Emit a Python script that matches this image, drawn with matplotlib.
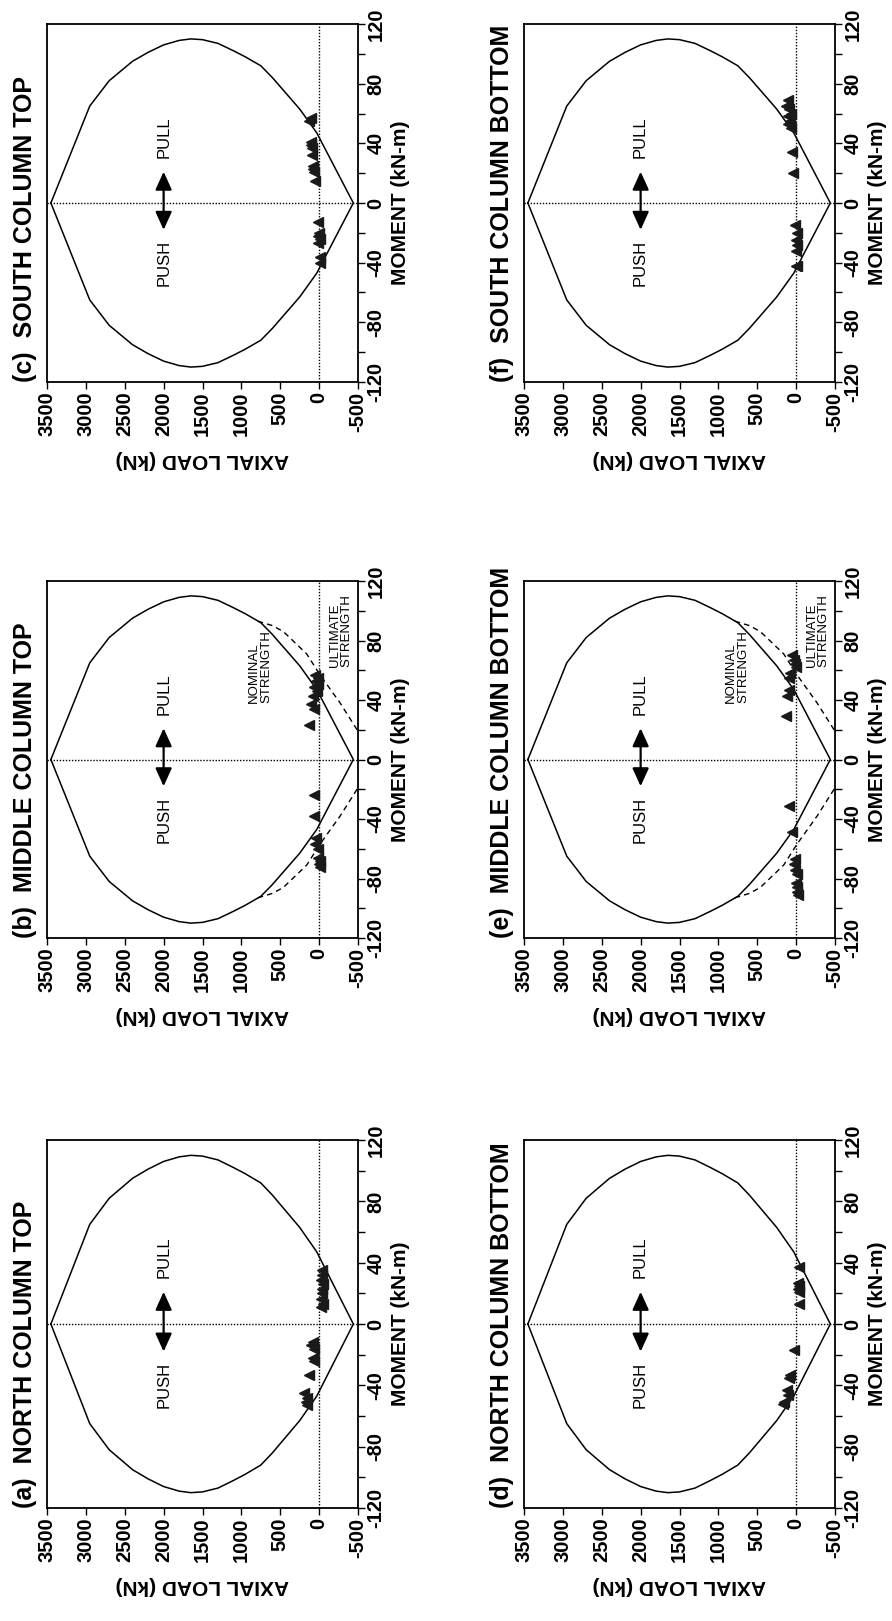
import matplotlib.pyplot as plt
from matplotlib.ticker import MultipleLocator

plt.rcParams['font.family'] = ['Liberation Sans', 'DejaVu Sans']

# nominal P-M interaction diagram (positive-moment half; mirrored for negative)
nominal_p = [3450, 2950, 2700, 2400, 2200, 2000, 1800, 1650, 1500, 1300, 1100, 950,
             750, 600, 400, 250, 30, -440]
nominal_m = [0, 65, 82, 95, 101, 106, 109, 110, 109.5, 107, 102, 98,
             92, 84, 72, 63, 47, 0]

# ultimate strength branch, drawn on the middle column only
ultimate_p = [790, 600, 460, 160, -10, -270, -500]
ultimate_m = [93, 90, 86, 71, 57, 38, 19]

titles = ['(a)  NORTH COLUMN TOP', '(b)  MIDDLE COLUMN TOP', '(c)  SOUTH COLUMN TOP',
          '(d)  NORTH COLUMN BOTTOM', '(e)  MIDDLE COLUMN BOTTOM', '(f)  SOUTH COLUMN BOTTOM']

# measured (moment kN-m, axial load kN) per panel
a_m = [35, 32, 29, 26, 23, 20, 16, 13, 11, -12, -14, -16, -22, -24, -33, -45, -48, -51, -53]
a_p = [-35, -40, -30, -45, -35, -40, -30, -45, -25, 80, 100, 60, 85, 60, 125, 190, 160, 175, 150]

b_m = [57, 55, 53, 51, 49, 46, 43, 37, 34, 23, -24, -38, -53, -57, -60, -66, -68, -70, -72]
b_p = [50, 20, 35, 10, 60, 30, 75, 100, 65, 125, 70, 60, 40, 55, 20, 10, -10, 5, -15]

c_m = [57, 55, 41, 39, 37, 32, 25, 23, 21, 15, -13, -20, -22, -24, -27, -36, -40]
c_p = [110, 130, 100, 110, 95, 95, 75, 80, 70, 50, 10, 5, 15, -5, 10, -10, -15]

d_m = [37, 27, 25, 23, 21, 13, -17, -33, -35, -43, -46, -51, -52]
d_p = [-40, -30, -40, -25, -35, -40, 30, 75, 95, 120, 105, 150, 165]

e_m = [70, 67, 64, 62, 58, 55, 47, 43, 29, -31, -49, -67, -70, -74, -77, -83, -86, -89, -91]
e_p = [50, 30, 10, 0, 75, 90, 95, 115, 130, 95, 50, 20, 30, 10, -5, 0, -15, -10, -20]

f_m = [69, 65, 63, 60, 58, 55, 53, 50, 34, 20, -15, -20, -25, -28, -32, -42, -42]
f_p = [105, 130, 95, 60, 105, 75, 105, 60, 55, 45, 10, -5, 0, -10, 0, 5, -10]

moments = [a_m, b_m, c_m, d_m, e_m, f_m]
loads = [a_p, b_p, c_p, d_p, e_p, f_p]
show_ultimate = [False, True, False, False, True, False]

load_ticks = list(range(-500, 3501, 500))
moment_ticks = list(range(-120, 121, 40))

W, H = 892, 1621
fig = plt.figure(figsize=(W / 100, H / 100), dpi=100)

# page is turned on its side: columns hold top/bottom, rows run c-b-a
col_px = [47, 524]
row_px = [(24, 382), (581, 938), (1140, 1508)]
box_w = 311
slots = [(0, 2), (0, 1), (0, 0), (1, 2), (1, 1), (1, 0)]

mirror_p = nominal_p[::-1]
mirror_m = [-m for m in nominal_m[::-1]]
env_p = nominal_p + mirror_p
env_m = nominal_m + mirror_m

for i in range(6):
    col, row = slots[i]
    top, bot = row_px[row]
    ax = fig.add_axes([col_px[col] / W, 1 - bot / H, box_w / W, (bot - top) / H])

    ax.plot(env_p, env_m, color='black', lw=1.1)
    ax.axvline(0, color='black', lw=1.0, ls=(0, (1, 1.2)))
    ax.axhline(0, color='black', lw=1.0, ls=(0, (1, 1.2)))

    if show_ultimate[i]:
        ax.plot(ultimate_p, ultimate_m, color='black', lw=1.0, ls=(0, (4, 3)))
        ax.plot(ultimate_p, [-m for m in ultimate_m], color='black', lw=1.0, ls=(0, (4, 3)))
        ax.text(760, 38, 'NOMINAL\nSTRENGTH', rotation=90, fontsize=9.5,
                ha='center', va='bottom', multialignment='left', linespacing=1.0)
        ax.text(-280, 62, 'ULTIMATE\nSTRENGTH', rotation=90, fontsize=9.5,
                ha='center', va='bottom', multialignment='left', linespacing=1.0)

    ax.plot(loads[i], moments[i], linestyle='none', marker='<', markersize=7.5,
            color='#1a1a1a')

    # push / pull direction arrow
    ax.annotate('', xy=(2000, 21), xytext=(2000, -18),
                arrowprops=dict(arrowstyle='<|-|>,head_length=0.55,head_width=0.25',
                                mutation_scale=20, lw=1.6, color='black',
                                shrinkA=0, shrinkB=0))
    ax.text(2000, -25, 'PUSH', rotation=90, fontsize=12, ha='center', va='top')
    ax.text(2000, 30, 'PULL', rotation=90, fontsize=12, ha='center', va='bottom')

    ax.set_xlim(3500, -500)
    ax.set_ylim(-120, 120)
    ax.set_xticks(load_ticks)
    ax.set_xticklabels([str(t) for t in load_ticks], rotation=90, fontsize=14.5,
                       fontweight='bold')
    ax.yaxis.tick_right()
    ax.yaxis.set_label_position('right')
    ax.set_yticks(moment_ticks)
    ax.set_yticklabels([str(t) for t in moment_ticks], rotation=90, fontsize=14.5,
                       fontweight='bold', va='center')
    ax.yaxis.set_minor_locator(MultipleLocator(20))
    ax.tick_params(axis='both', which='both', direction='out', length=5, width=1)
    ax.tick_params(axis='y', which='both', pad=1)
    ax.tick_params(axis='x', which='both', pad=2)

    ax.set_xlabel('AXIAL LOAD (kN)', rotation=180, fontsize=15, fontweight='bold',
                  labelpad=10)
    ax.set_ylabel('MOMENT (kN-m)', rotation=90, fontsize=15, fontweight='bold',
                  labelpad=4)
    for s in ax.spines.values():
        s.set_linewidth(1.3)

    ax.text(-0.032, 0.0, titles[i], transform=ax.transAxes, rotation=90,
            fontsize=18, fontweight='bold', ha='right', va='bottom')

fig.savefig('out.png', dpi=100)
